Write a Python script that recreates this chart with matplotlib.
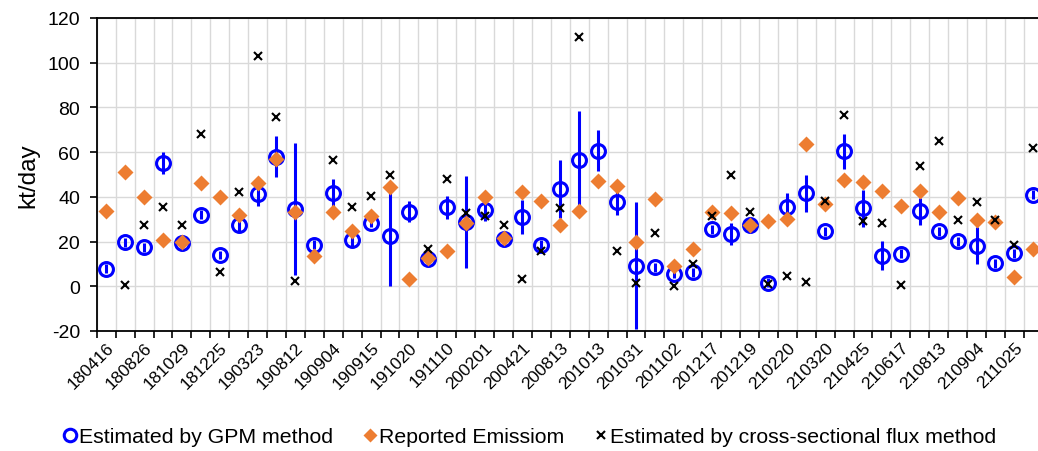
import numpy as np
import matplotlib
matplotlib.use('Agg')
import matplotlib.pyplot as plt

plt.rcParams['font.family'] = ['Liberation Sans', 'DejaVu Sans']
plt.rcParams['axes.unicode_minus'] = False

# dates of the observations (only every other one is labelled on the axis)
dates = ['180416', '', '180826', '', '181029', '', '181225', '', '190323', '',
         '190812', '', '190904', '', '190915', '', '191020', '', '191110', '',
         '200201', '', '200421', '', '200813', '', '201013', '', '201031', '',
         '201102', '', '201217', '', '201219', '', '210220', '', '210320', '',
         '210425', '', '210617', '', '210813', '', '210904', '', '211025', '']

# Estimated by GPM method (kt/day) and its uncertainty
gpm = [7.8, 19.7, 17.4, 55.0, 19.2, 31.9, 14.0, 27.6, 41.3, 58.0,
       34.6, 18.6, 41.6, 20.6, 28.5, 22.7, 33.4, 12.2, 35.3, 28.9,
       34.2, 21.2, 30.9, 18.6, 43.5, 56.4, 60.7, 37.9, 9.2, 8.5,
       5.5, 6.3, 25.4, 23.4, 27.4, 1.5, 35.3, 41.6, 24.6, 60.3,
       34.9, 13.7, 14.5, 33.6, 24.6, 20.1, 18.2, 10.3, 14.8, 40.9]
gpm_err = [2, 2, 2, 4.9, 2, 2, 2, 3.4, 5.6, 9.3,
           29.6, 2, 6.3, 2.5, 2, 22.5, 4.8, 2, 5.2, 20.6,
           5, 2, 7.5, 2, 13, 22, 9, 6, 28.3, 2,
           2, 2, 2, 5, 2, 2, 6.5, 8.2, 2, 7.8,
           8.2, 6.5, 2, 6, 2, 2, 8.2, 2, 2, 2]

# Reported emission (kt/day)
reported = [33.7, 51.0, 40.0, 20.6, 20.0, 46.2, 40.0, 31.9, 46.2, 57.0,
            33.1, 13.7, 33.1, 24.9, 31.3, 44.4, 3.3, 12.8, 15.7, 28.3,
            40.1, 21.5, 42.1, 38.3, 27.6, 33.6, 47.3, 44.7, 19.7, 39.1,
            9.2, 16.7, 33.1, 32.7, 27.4, 29.1, 30.1, 63.7, 36.8, 47.6,
            46.8, 42.8, 35.8, 42.4, 33.1, 39.4, 29.7, 28.9, 4.3, 16.7]

# Estimated by cross-sectional flux method (kt/day), nan = not available
flux = [np.nan, 0.6, 27.4, 35.3, 27.4, 67.9, 6.4, 42.1, 102.9, 75.5,
        2.2, np.nan, 56.4, 35.3, 40.3, 49.7, np.nan, 16.7, 48.0, 32.7,
        31.6, 27.4, 3.3, 15.7, 34.9, 111.4, np.nan, 16.0, 1.5, 23.7,
        0.3, 10.0, 31.6, 49.8, 33.4, 1.0, 4.5, 2.1, 38.3, 76.4,
        29.4, 28.3, 0.7, 53.7, 65.2, 29.7, 37.6, 29.7, 18.5, 61.9]

x = np.arange(len(dates))

fig = plt.figure(figsize=(10.38, 4.52), dpi=100)
ax = fig.add_axes([0.0932, 0.2655, 0.9114, 0.6925])

ax.errorbar(x, gpm, yerr=gpm_err, fmt='none', ecolor='#0000ff', elinewidth=2.2,
            capsize=0, zorder=3)
ax.plot(x, gpm, 'o', ms=10, mfc='none', mec='#0000ff', mew=2.2, zorder=3,
        label='Estimated by GPM method')
ax.plot(x, reported, 'D', ms=7.8, color='#ed7d31', mec='none', zorder=4,
        label='Reported Emissiom')
ax.plot(x, flux, 'x', ms=5.8, color='black', mew=1.5, zorder=5,
        label='Estimated by cross-sectional flux method')

ax.set_xlim(-0.5, len(dates) - 0.5)
ax.set_ylim(-20, 120)
ax.set_yticks(np.arange(-20, 121, 20))
ax.tick_params(axis='y', labelsize=14, length=5, width=1.2, direction='out', pad=7)

# labels under every other category, tick marks at category boundaries
ax.set_xticks(x[::2])
ax.set_xticklabels(dates[::2], rotation=45, ha='right', rotation_mode='anchor')
ax.tick_params(axis='x', which='major', length=0, labelsize=12.5, pad=6)
ax.set_xticks(np.arange(-0.5, len(dates)), minor=True)
ax.tick_params(axis='x', which='minor', length=5, width=1.2, direction='out')

ax.grid(True, axis='y', color='#d9d9d9', lw=1)
ax.grid(True, axis='x', which='minor', color='#d9d9d9', lw=1)
ax.set_axisbelow(True)

for s in ['left', 'bottom', 'top']:
    ax.spines[s].set_linewidth(1.3)
    ax.spines[s].set_color('black')
ax.spines['right'].set_visible(False)

ax.set_ylabel('kt/day', fontsize=17.5, labelpad=6)

fig.legend(loc='center', bbox_to_anchor=(0.51, 0.031), ncol=3, frameon=False,
           fontsize=15.3, markerscale=0.9, handlelength=0.7, handletextpad=0.05,
           columnspacing=1.4)

fig.savefig('out.png', dpi=100)
